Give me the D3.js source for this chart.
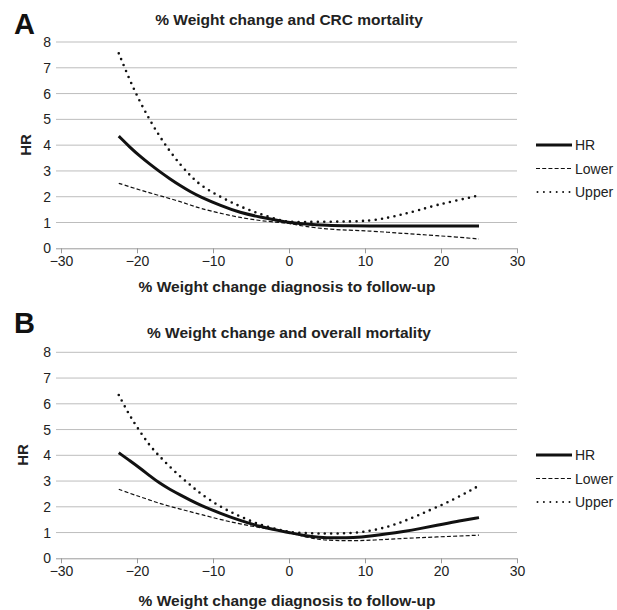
<!DOCTYPE html>
<html>
<head>
<meta charset="utf-8">
<script src="https://cdn.jsdelivr.net/npm/d3@7"></script>
<style>
	body { margin: 0; background: #fff; }
	svg { font-family: "Liberation Sans", Arial, sans-serif; }
	.grid line { stroke: #bdbdbd; stroke-width: 1; }
	.tick text { fill: #222; }
</style>
</head>
<body>
<svg id="chart" width="617" height="610"></svg>
<script>
// x values (% weight change) and hazard ratios
var xTicks = [-30, -20, -10, 0, 10, 20, 30];
var yTicks = [0, 1, 2, 3, 4, 5, 6, 7, 8];

var crcX     = [-22.4, -20.9, -19.6, -18.3, -17, -15.7, -14.3, -13, -11.7, -9.1, -6.4, -3.8, -1.2, 0, 2, 5, 8, 10.7, 13, 15, 17, 19.4, 22, 25];
var crcHR    = [4.35, 3.91, 3.57, 3.26, 2.97, 2.7, 2.43, 2.2, 2.0, 1.67, 1.38, 1.21, 1.06, 1.0, 0.94, 0.89, 0.87, 0.86, 0.86, 0.86, 0.86, 0.86, 0.86, 0.86];
var crcLower = [2.52, 2.38, 2.26, 2.15, 2.04, 1.93, 1.81, 1.68, 1.55, 1.36, 1.19, 1.07, 1.0, 0.97, 0.85, 0.74, 0.7, 0.67, 0.62, 0.58, 0.54, 0.49, 0.44, 0.36];
var crcUpper = [7.56, 6.48, 5.67, 4.96, 4.33, 3.77, 3.24, 2.82, 2.45, 2.0, 1.61, 1.33, 1.09, 1.02, 1.02, 1.03, 1.04, 1.07, 1.18, 1.32, 1.47, 1.68, 1.85, 2.05];

var allX     = [-22.4, -20.9, -19.6, -18.3, -17, -15.7, -14.3, -13, -11.7, -9.1, -6.4, -3.8, -1.2, 0, 2, 4, 6, 8.5, 10.7, 13, 15, 17.2, 19.4, 22, 25];
var allHR    = [4.1, 3.78, 3.5, 3.2, 2.91, 2.68, 2.46, 2.26, 2.07, 1.75, 1.46, 1.23, 1.07, 1.0, 0.88, 0.81, 0.79, 0.8, 0.86, 0.95, 1.04, 1.15, 1.28, 1.43, 1.58];
var allLower = [2.68, 2.52, 2.39, 2.26, 2.13, 2.02, 1.91, 1.81, 1.71, 1.51, 1.33, 1.19, 1.07, 1.0, 0.84, 0.72, 0.69, 0.68, 0.7, 0.74, 0.77, 0.8, 0.83, 0.86, 0.9];
var allUpper = [6.34, 5.5, 4.92, 4.36, 3.95, 3.56, 3.17, 2.85, 2.52, 2.0, 1.62, 1.29, 1.1, 1.02, 0.98, 0.96, 0.96, 0.98, 1.06, 1.22, 1.42, 1.7, 1.98, 2.33, 2.82];

var seriesNames = ["HR", "Lower", "Upper"];

var svg = d3.select("#chart");

var lineStyle = {
	"HR"    : { width: 3,   dash: null,    cap: "butt" },
	"Lower" : { width: 1.2, dash: "4,2.2", cap: "butt" },
	"Upper" : { width: 2.6, dash: "0,6.4", cap: "round" }
};

function drawPanel(p) {
	var x = d3.scaleLinear().domain([-30, 30]).range([61, 517]);
	var y = d3.scaleLinear().domain([0, 8]).range([p.bottom, p.top]);
	var g = svg.append("g");

	// horizontal gridlines
	g.append("g").attr("class", "grid")
		.selectAll("line").data(yTicks.slice(1)).enter().append("line")
		.attr("x1", 56).attr("x2", 517)
		.attr("y1", function(d) { return y(d); })
		.attr("y2", function(d) { return y(d); });

	// x axis
	var xAxis = d3.axisBottom(x).tickValues(xTicks).tickSize(5).tickPadding(3)
		.tickFormat(function(d) { return d < 0 ? "\u2212" + Math.abs(d) : d; });
	var xa = g.append("g").attr("transform", "translate(0," + y(0) + ")").call(xAxis);
	xa.select(".domain").attr("stroke", "#9a9a9a").attr("d", "M56,0.5H517");
	xa.selectAll(".tick line").attr("stroke", "#9a9a9a");
	xa.selectAll(".tick text").attr("font-size", 14).attr("font-family", "inherit");

	// y tick labels
	g.selectAll("text.ylab").data(yTicks).enter().append("text")
		.attr("class", "ylab")
		.attr("x", 51)
		.attr("y", function(d) { return y(d) + 5; })
		.attr("text-anchor", "end")
		.attr("font-size", 14)
		.attr("fill", "#222")
		.text(function(d) { return d; });

	// series lines
	var line = d3.line()
		.x(function(d) { return x(d[0]); })
		.y(function(d) { return y(d[1]); })
		.curve(d3.curveBasis);
	seriesNames.forEach(function(name, i) {
		var st = lineStyle[name];
		var pts = p.xs.map(function(v, j) { return [v, p.series[i][j]]; });
		g.append("path")
			.attr("d", line(pts))
			.attr("fill", "none")
			.attr("stroke", "#111")
			.attr("stroke-width", st.width)
			.attr("stroke-dasharray", st.dash)
			.attr("stroke-linecap", st.cap);
	});

	// legend
	var lg = g.append("g").attr("transform", "translate(536," + p.legendY + ")");
	seriesNames.forEach(function(name, i) {
		var st = lineStyle[name];
		var yy = i * 23.5;
		lg.append("line")
			.attr("x1", name == "Upper" ? 1.5 : 0).attr("x2", 36)
			.attr("y1", yy).attr("y2", yy)
			.attr("stroke", "#111")
			.attr("stroke-width", name == "Upper" ? 2 : st.width)
			.attr("stroke-dasharray", name == "Upper" ? "0,6.4" : st.dash)
			.attr("stroke-linecap", st.cap);
		lg.append("text")
			.attr("x", 39).attr("y", yy + 5)
			.attr("font-size", 14)
			.attr("fill", "#222")
			.text(name);
	});

	// titles
	g.append("text")
		.attr("x", 289).attr("y", p.titleY)
		.attr("text-anchor", "middle")
		.attr("font-size", 15.5).attr("font-weight", "bold")
		.attr("fill", "#222")
		.text(p.title);
	g.append("text")
		.attr("x", 287).attr("y", p.xTitleY)
		.attr("text-anchor", "middle")
		.attr("font-size", 15.5).attr("font-weight", "bold")
		.attr("fill", "#222")
		.text("% Weight change diagnosis to follow-up");
	g.append("text")
		.attr("transform", "translate(" + p.hrX + "," + p.hrY + ") rotate(-90)")
		.attr("text-anchor", "middle")
		.attr("font-size", 15).attr("font-weight", "bold")
		.attr("fill", "#222")
		.text("HR");
	g.append("text")
		.attr("x", 14).attr("y", p.letterY)
		.attr("font-size", 29).attr("font-weight", "bold")
		.attr("fill", "#111")
		.text(p.letter);
}

drawPanel({
	letter: "A", letterY: 34, title: "% Weight change and CRC mortality", titleY: 25,
	top: 42, bottom: 248.3, xTitleY: 292, hrX: 31, hrY: 145, legendY: 145,
	xs: crcX, series: [crcHR, crcLower, crcUpper]
});
drawPanel({
	letter: "B", letterY: 333, title: "% Weight change and overall mortality", titleY: 338,
	top: 352.3, bottom: 558.3, xTitleY: 606, hrX: 28, hrY: 455, legendY: 455,
	xs: allX, series: [allHR, allLower, allUpper]
});
</script>
</body>
</html>
